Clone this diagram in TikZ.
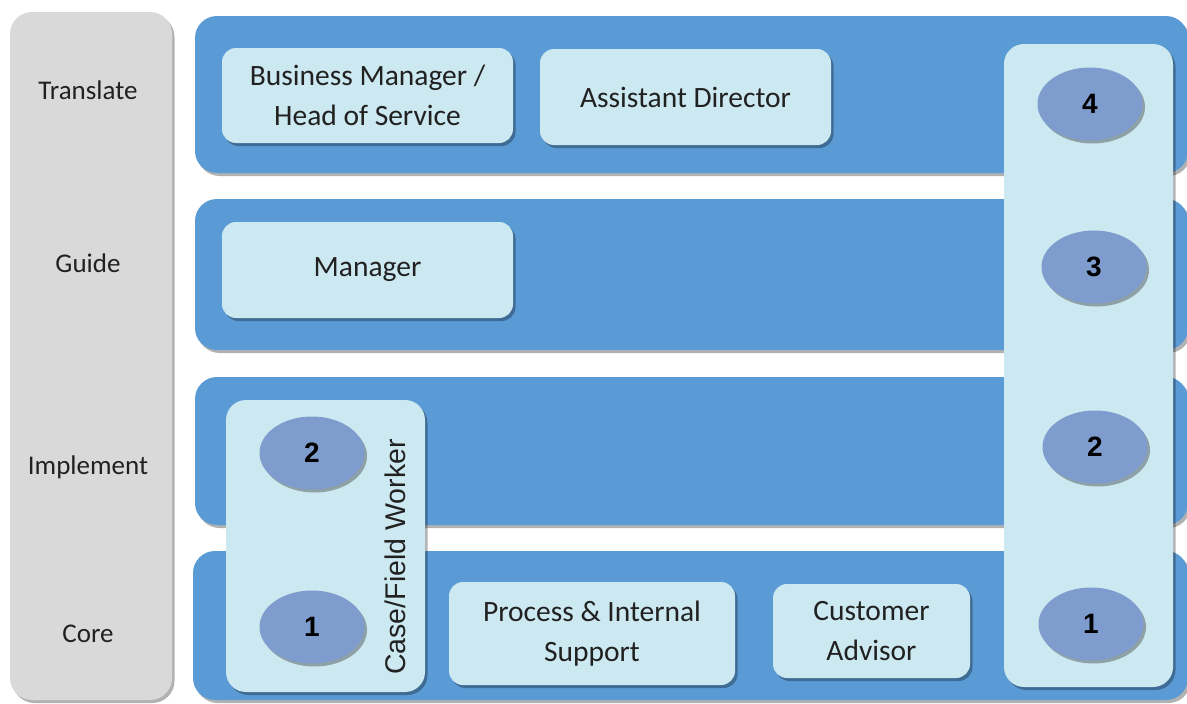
\documentclass[tikz,border=0pt]{standalone}
\usepackage{fontspec}
\setmainfont{Carlito}
\newfontfamily\numfont{Liberation Sans}
\usetikzlibrary{shapes.geometric,shadows}

\definecolor{greycol}{RGB}{217,217,217}
\definecolor{bandblue}{RGB}{91,155,213}
\definecolor{paleblue}{RGB}{204,232,240}
\definecolor{ovalblue}{RGB}{127,156,206}
\definecolor{inktext}{RGB}{33,33,33}

\tikzset{every picture/.style={line width=0.75pt}}
\tikzset{
  softshadow/.style={drop shadow={shadow xshift=2.5pt,shadow yshift=-3pt,opacity=0.3,fill=black}},
  levelcol/.style={fill=greycol, rounded corners=22pt, inner sep=0pt, softshadow},
  band/.style={fill=bandblue, rounded corners=22pt, inner sep=0pt, softshadow},
  rolebox/.style={fill=paleblue, rounded corners=14pt, inner sep=0pt, softshadow, align=center, text=inktext, font=\fontsize{29.5}{40}\selectfont},
  holder/.style={fill=paleblue, rounded corners=20pt, inner sep=0pt, softshadow},
  levelnum/.style={ellipse, fill=ovalblue, minimum width=105pt, minimum height=73pt, inner sep=0pt, softshadow, text=black, font=\fontsize{28}{32}\numfont\bfseries},
  levellabel/.style={text=inktext, font=\fontsize{27}{32}\selectfont}
}

\begin{document}
\begin{tikzpicture}[x=1pt,y=1pt,yscale=-1]
\clip (0,0) rectangle (1187,704);

\node [levelcol, minimum width=162pt, minimum height=688pt] (levels) at (91,356) {};

\node [band, minimum width=993pt, minimum height=157pt] (bandtrans) at (691.5,94.5) {};
\node [band, minimum width=993pt, minimum height=151pt] (bandguide) at (691.5,274.5) {};
\node [band, minimum width=993pt, minimum height=148pt] (bandimpl) at (691.5,451) {};
\node [band, minimum width=995pt, minimum height=149pt] (bandcore) at (690.5,625.5) {};

\node [rolebox, minimum width=291pt, minimum height=95pt] (bmhos) at (367.5,95.5) {Business Manager /\\Head of Service};
\node [rolebox, minimum width=291pt, minimum height=96pt] (asdir) at (685.5,97) {Assistant Director};
\node [rolebox, minimum width=291pt, minimum height=96pt] (mgr) at (367.5,270) {Manager};
\node [rolebox, minimum width=286pt, minimum height=103pt] (procsup) at (592,633.5) {Process \& Internal\\Support};
\node [rolebox, minimum width=197pt, minimum height=94pt] (custadv) at (871.5,631) {Customer\\Advisor};

\node [holder, minimum width=199pt, minimum height=292pt] (caseholder) at (325.5,546) {};
\node [holder, minimum width=169pt, minimum height=643pt] (rankholder) at (1088.5,365.5) {};

\node [levelnum] (case2) at (312,453) {2};
\node [levelnum] (case1) at (312,627) {1};
\node [levelnum] (rank4) at (1090,104) {4};
\node [levelnum] (rank3) at (1094,267) {3};
\node [levelnum] (rank2) at (1095,447) {2};
\node [levelnum] (rank1) at (1091,624) {1};

\node [rotate=90, text=inktext, font=\numfont\fontsize{28.5}{32}\selectfont] (casetxt) at (395,557) {Case/Field Worker};

\node [levellabel] (lbltrans) at (88,90) {Translate};
\node [levellabel] (lblguide) at (88,263) {Guide};
\node [levellabel] (lblimpl) at (88,467) {Implement};
\node [levellabel] (lblcore) at (88,634) {Core};

\end{tikzpicture}
\end{document}
